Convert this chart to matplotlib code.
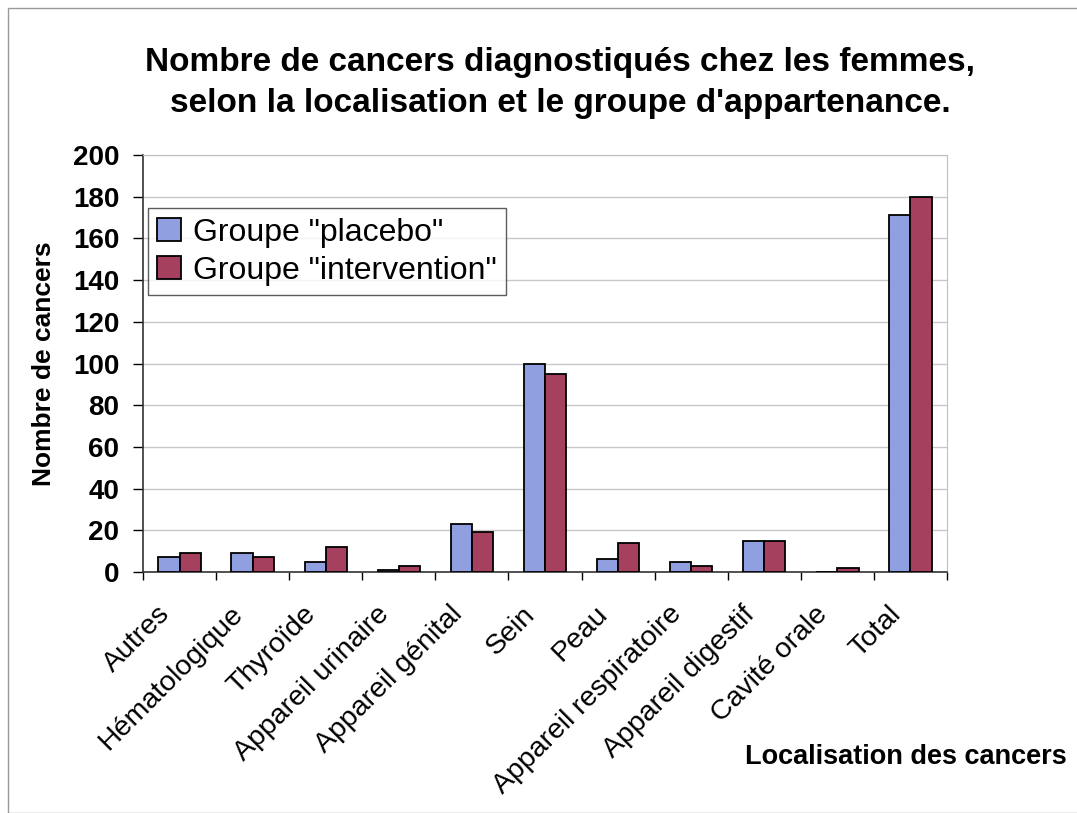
import numpy as np
import matplotlib.pyplot as plt
import matplotlib.transforms as mtransforms
from matplotlib.patches import Rectangle

plt.rcParams['font.family'] = ['Liberation Sans', 'DejaVu Sans']

categories = ['Autres', 'Hématologique', 'Thyroïde', 'Appareil urinaire',
              'Appareil génital', 'Sein', 'Peau', 'Appareil respiratoire',
              'Appareil digestif', 'Cavité orale', 'Total']
placebo = [7, 9, 5, 1, 23, 100, 6, 5, 15, 0, 171]
intervention = [9, 7, 12, 3, 19, 95, 14, 3, 15, 2, 180]
yticks = [0, 20, 40, 60, 80, 100, 120, 140, 160, 180, 200]

fig = plt.figure(figsize=(10.77, 8.13), dpi=100)
ax = fig.add_axes([143/1077, 1 - 572/813, (947-143)/1077, (572-155)/813])

x = np.arange(len(categories))
w = 0.29
ax.bar(x - w/2, placebo, w, color='#909FE0', edgecolor='black', lw=1.3,
       label='Groupe "placebo"', zorder=3)
ax.bar(x + w/2, intervention, w, color='#A6405F', edgecolor='black', lw=1.3,
       label='Groupe "intervention"', zorder=3)

ax.set_xlim(-0.5, len(categories) - 0.5)
ax.set_ylim(0, 200)
ax.set_yticks(yticks)
ax.set_yticklabels([str(v) for v in yticks], fontsize=20, fontweight='bold')
ax.yaxis.grid(True, color='#c8c8c8', lw=1, zorder=0)
ax.tick_params(axis='y', length=7, width=1, pad=10)

# category labels at centres, tick marks at boundaries
ax.set_xticks(x)
ax.set_xticklabels(categories, rotation=45, ha='right', va='top',
                   rotation_mode='anchor', fontsize=20.5)
ax.tick_params(axis='x', length=0, pad=8)
ax.set_xticks(np.arange(len(categories) + 1) - 0.5, minor=True)
ax.tick_params(axis='x', which='minor', length=6, width=1)
# nudge the rotated labels down-left like the original
offset = mtransforms.ScaledTranslation(-0.23, -0.18, fig.dpi_scale_trans)
for lab in ax.xaxis.get_majorticklabels():
    lab.set_transform(lab.get_transform() + offset)

for s in ['top', 'right']:
    ax.spines[s].set_color('#c0c0c0')
for s in ['left', 'bottom']:
    ax.spines[s].set_color('#333333')
    ax.spines[s].set_linewidth(1.2)

ax.set_ylabel('Nombre de cancers', fontsize=19, fontweight='bold', labelpad=12)
fig.text(745/1077, 1 - 757/813, 'Localisation des cancers', fontsize=19.5,
         fontweight='bold', ha='left', va='center')

leg = ax.legend(loc='upper left', bbox_to_anchor=(0.006, 0.873), fontsize=23,
                frameon=True, fancybox=False, edgecolor='#333333',
                handlelength=0.75, handleheight=0.75, handletextpad=0.35,
                borderpad=0.3, labelspacing=0.25, borderaxespad=0)
leg.get_frame().set_linewidth(1.0)

fig.text(560/1077, 1 - 62/813, 'Nombre de cancers diagnostiqués chez les femmes,',
         fontsize=24, fontweight='bold', ha='center', va='center')
fig.text(560/1077, 1 - 103/813, "selon la localisation et le groupe d'appartenance.",
         fontsize=24, fontweight='bold', ha='center', va='center')

fig.patches.append(Rectangle((8/1077, 0), 1.2, 1 - 8/813, transform=fig.transFigure,
                             fill=False, edgecolor='#999999', lw=1))

fig.savefig('out.png', dpi=100)
